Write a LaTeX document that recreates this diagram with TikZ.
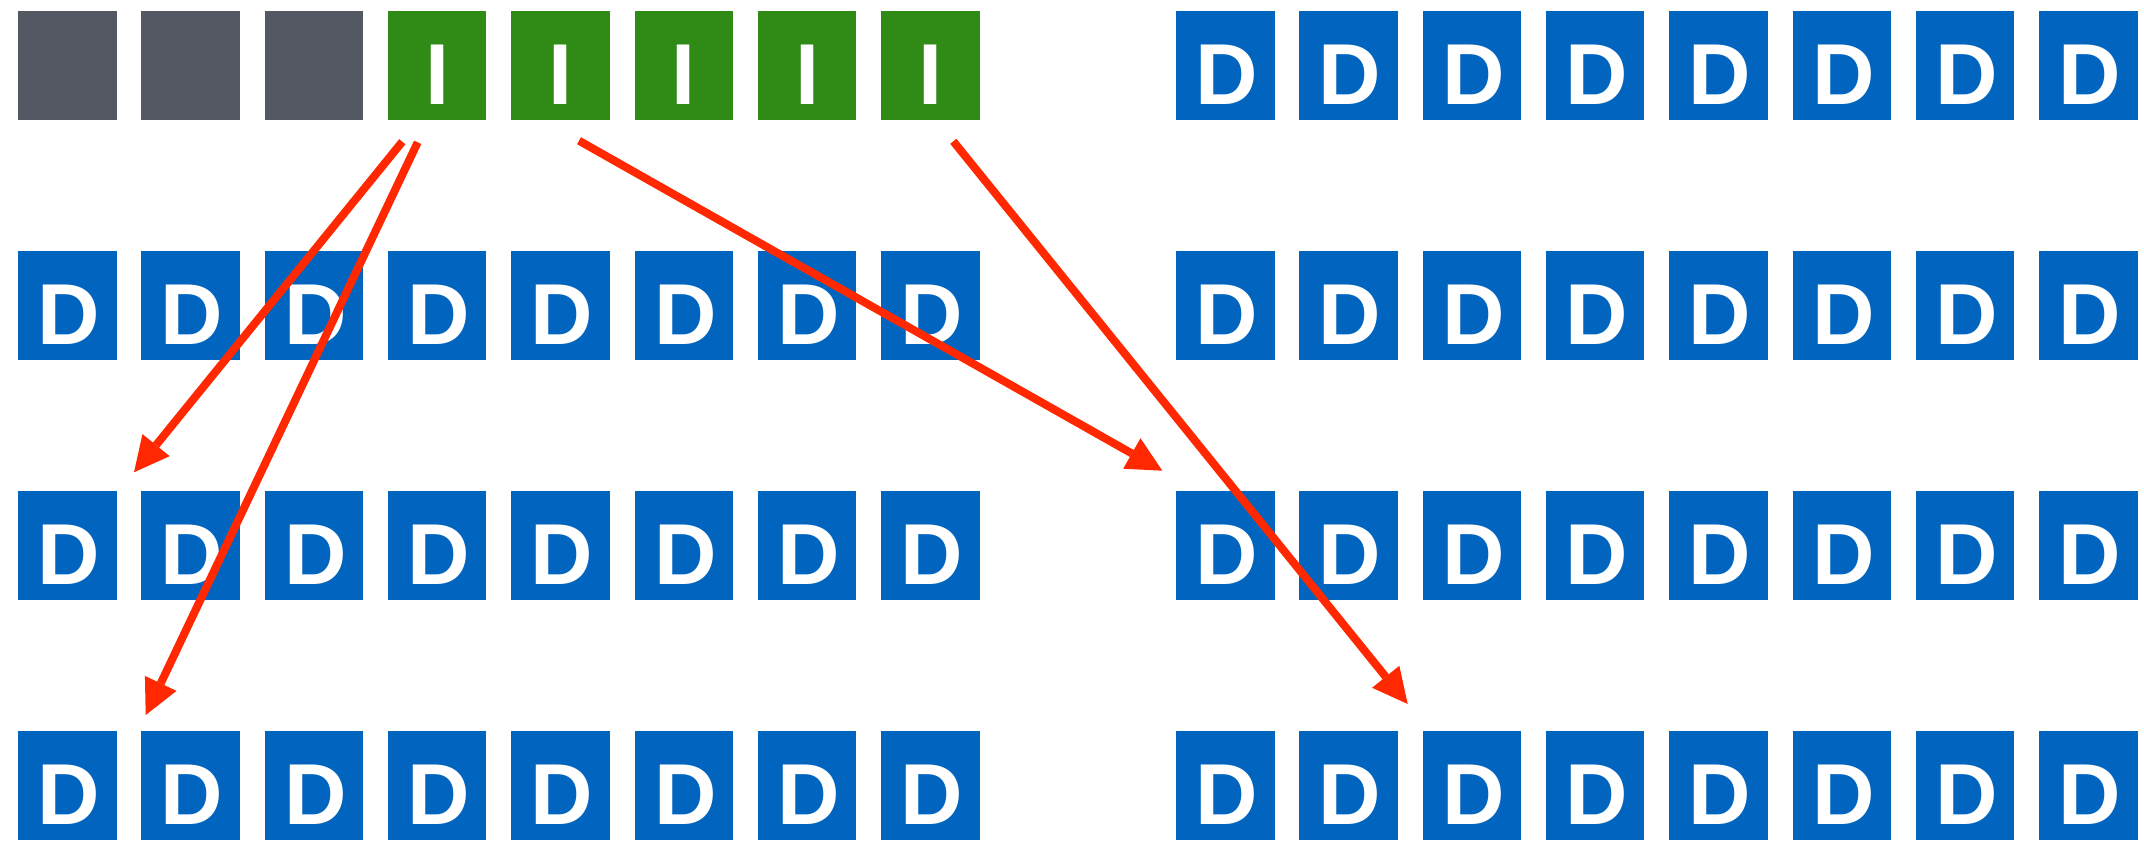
\documentclass[tikz,border=0pt]{standalone}
\usepackage{fontspec}
\setmainfont{Liberation Sans}
\usetikzlibrary{arrows.meta}
\definecolor{boxgray}{HTML}{535862}
\definecolor{boxgreen}{HTML}{2F8A16}
\definecolor{boxblue}{HTML}{0165C0}
\definecolor{arrowred}{HTML}{FF2800}
\tikzset{
  cell/.style={minimum width=98.5pt, minimum height=109.5pt, inner sep=0pt, outer sep=0pt,
    anchor=north west, font=\fontsize{86.5}{86.5}\selectfont\bfseries, text=white,
    text height=79pt, text depth=0pt},
  graybox/.style={cell, fill=boxgray},
  greenbox/.style={cell, fill=boxgreen},
  bluebox/.style={cell, fill=boxblue},
  redarrow/.style={draw=arrowred, line width=8pt,
    -{Triangle[length=35pt,width=35pt,line width=0pt]}}
}
\begin{document}
\begin{tikzpicture}[x=1pt,y=-1pt]
\useasboundingbox (0,0) rectangle (2144,841);
% top-left row
\foreach \c in {0,1,2}
  \node[graybox] (L0\c) at ({18+123.3*\c},10.7) {};
\foreach \c in {3,...,7}
  \node[greenbox] (L0\c) at ({18+123.3*\c},10.7) {I};
% left group, rows 1-3
\foreach \r in {1,2,3}
  \foreach \c in {0,...,7}
    \node[bluebox] (L\r\c) at ({18+123.3*\c},{10.7+240*\r}) {\hspace{3pt}D};
% right group, rows 0-3
\foreach \r in {0,...,3}
  \foreach \c in {0,...,7}
    \node[bluebox] (R\r\c) at ({1176+123.3*\c},{10.7+240*\r}) {\hspace{3pt}D};
% arrow ends
\coordinate (s1) at (402.3,141.7);
\coordinate (e1) at (134,472.3);
\coordinate (s2) at (417.7,142.3);
\coordinate (e2) at (145.7,715);
\coordinate (s3) at (579,140.7);
\coordinate (e3) at (1162.3,470.7);
\coordinate (s4) at (953.3,141.3);
\coordinate (e4) at (1407.7,704);
\draw[redarrow] (s1) -- (e1);
\draw[redarrow] (s2) -- (e2);
\draw[redarrow] (s3) -- (e3);
\draw[redarrow] (s4) -- (e4);
\end{tikzpicture}
\end{document}
